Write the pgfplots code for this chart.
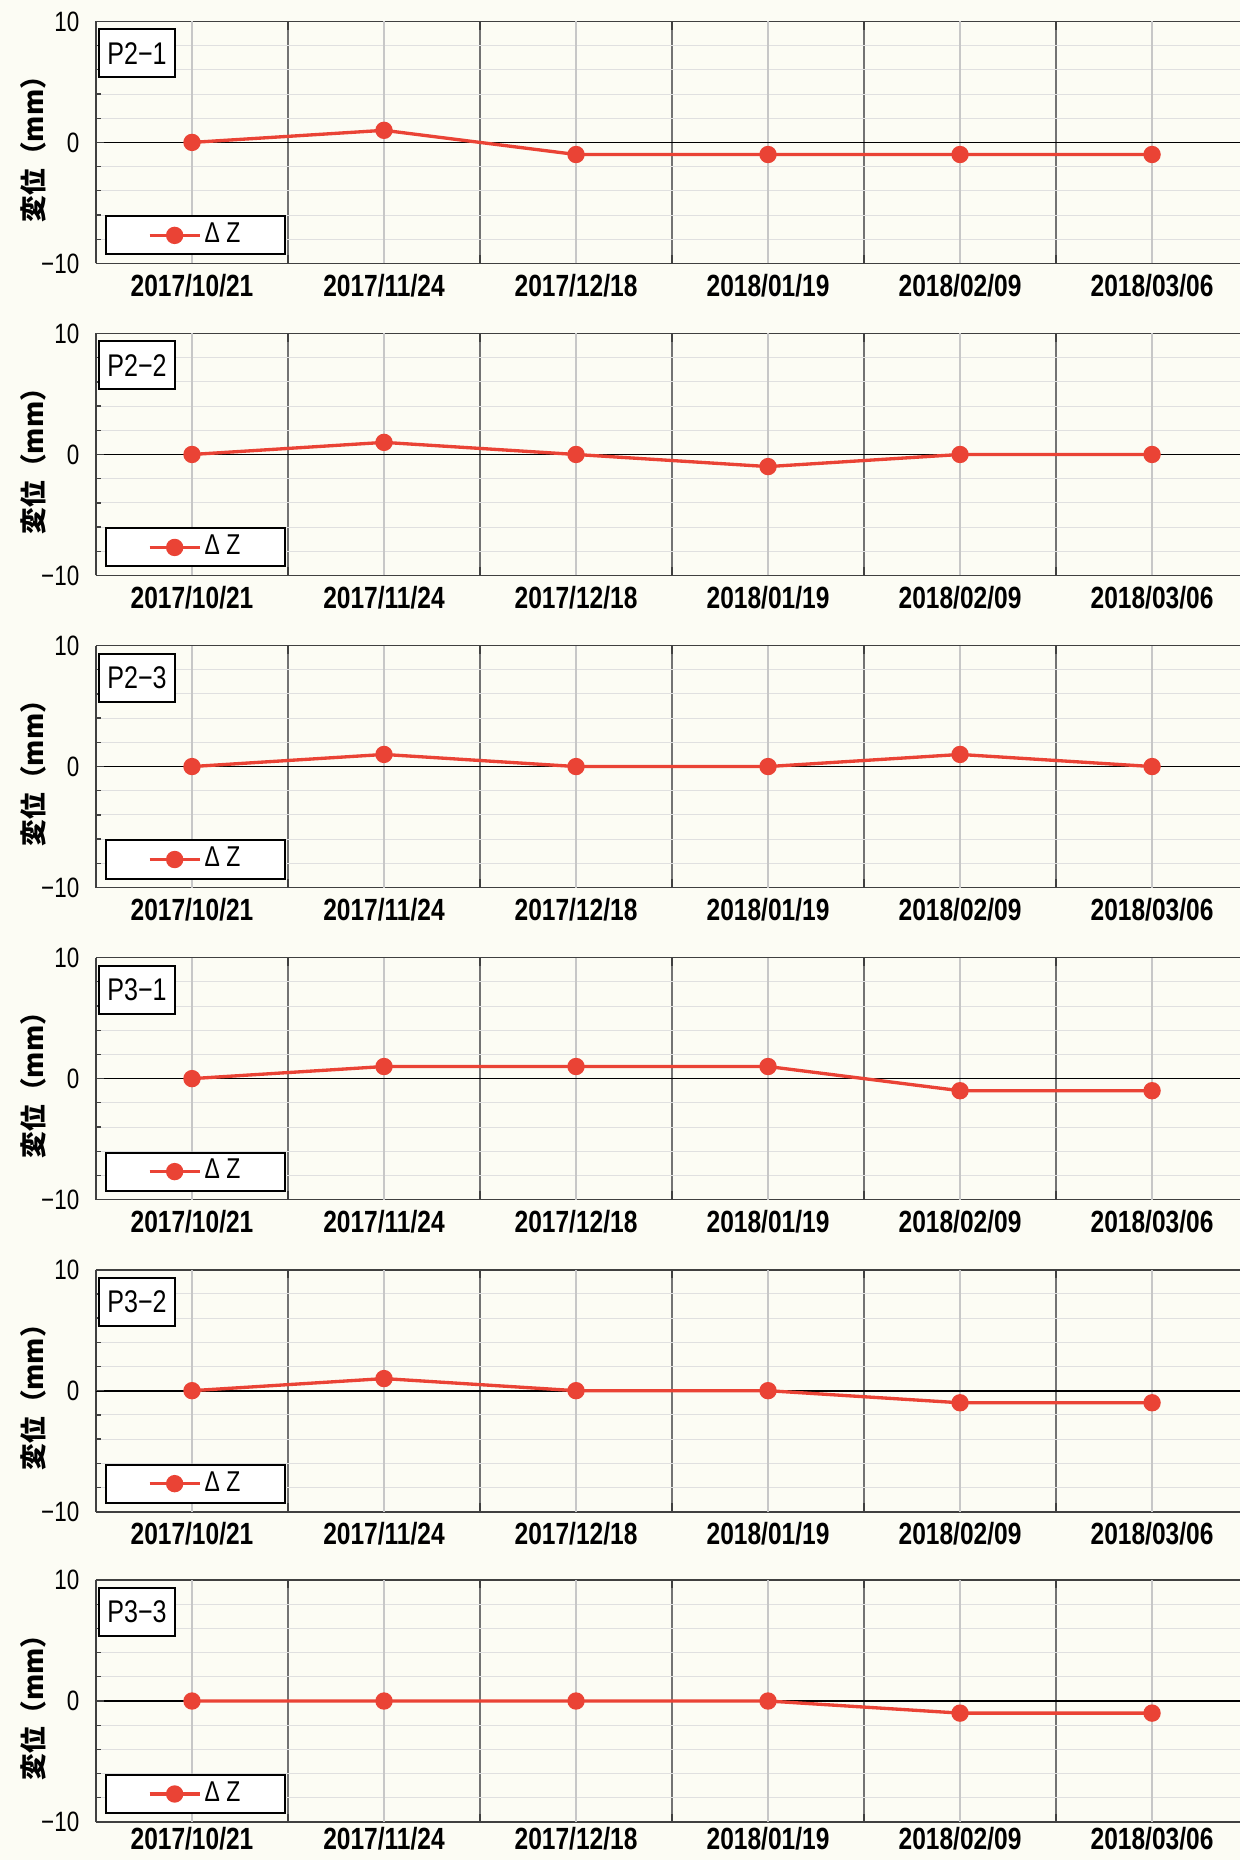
\documentclass[border=0pt]{standalone}
\usepackage{pgfplots}
\usepackage{pgfplotstable}
\pgfplotsset{compat=1.18}
\usepackage{fontspec}
\setmainfont{Liberation Sans}
\newfontfamily\narrow[FakeStretch=0.8]{Liberation Sans}
\newfontfamily\jp{Noto Sans CJK JP}
\definecolor{bg}{RGB}{252,252,244}
\definecolor{series}{RGB}{234,67,53}

\pgfplotstableread{
x p21 p22 p23 p31 p32 p33
0 0 0 0 0 0 0
1 1 1 1 1 1 0
2 -1 0 0 1 0 0
3 -1 -1 0 1 0 0
4 -1 0 1 -1 -1 -1
5 -1 0 0 -1 -1 -1
}\data

\pgfplotsset{
panel/.style={
 scale only axis, width=343.2pt, height=72.6pt,
 xmin=-0.5, xmax=5.458, ymin=-10, ymax=10,
 axis y line*=left, axis x line*=box,
 axis line style={black!75, line width=0.5pt},
 xtick={0.5,1.5,2.5,3.5,4.5}, xticklabels={},
 xmajorgrids, major grid style={black!55, line width=0.4pt},
 extra x ticks={0,1,2,3,4,5},
 extra x tick labels={2017/10/21,2017/11/24,2017/12/18,2018/01/19,2018/02/09,2018/03/06},
 extra x tick style={grid=major, major grid style={black!22, line width=0.4pt}, major tick length=0pt},
 xticklabel style={font=\narrow\bfseries\fontsize{9.2}{10}\selectfont, inner sep=0.8pt, yshift=-2.3pt},
 ytick={-10,10}, yticklabels={−10,10},
 extra y ticks={0}, extra y tick labels={0},
 extra y tick style={grid=major, major grid style={black, line width=0.5pt}},
 minor y tick num=9, yminorgrids, minor grid style={black!12, line width=0.3pt},
 yticklabel style={font=\narrow\fontsize{8.4}{9}\selectfont, xshift=-1.5pt},
 tick style={black!75, line width=0.4pt}, major tick length=2.5pt, minor tick length=1.5pt,
 ylabel={変位（mm）},
 ylabel style={font=\jp\bfseries\fontsize{8}{9}\selectfont, at={(axis description cs:-0.055,0.5)}, anchor=center},
 legend style={at={(0,0)}, anchor=south west, xshift=2.8pt, yshift=2.4pt, draw=black, line width=0.6pt, fill=white, inner xsep=12.5pt, inner ysep=1pt, nodes={inner sep=1pt}, font=\narrow\fontsize{8.6}{9}\selectfont, /tikz/every even column/.append style={column sep=2pt}},
 legend image code/.code={\draw[mark repeat=2, mark phase=2, #1] plot coordinates {(0pt,0pt)(7.5pt,0pt)(15pt,0pt)};},
}}

\newcommand\panel[4][]{%
\begin{axis}[panel, at={(28.8pt,-#2pt)}, anchor=south west, #1]
\addplot[color=series, line width=1pt, mark=*, mark size=2.1pt, mark options={solid, fill=series, draw=series}] table[x=x,y=#4]{\data};
\addlegendentry{Δ Z}
\node[draw=black, line width=0.6pt, fill=white, anchor=north west, minimum width=23pt, minimum height=14.4pt, inner sep=0pt, font=\narrow\fontsize{9.4}{10}\selectfont, xshift=0.5pt, yshift=-2.1pt] at (rel axis cs:0,1) {#3};
\end{axis}}

\begin{document}
\begin{tikzpicture}
\path[use as bounding box, fill=bg] (0,0) rectangle (372pt,-558pt);
\panel{79.02}{P2−1}{p21}
\panel{172.64}{P2−2}{p22}
\panel{266.26}{P2−3}{p23}
\panel{359.88}{P3−1}{p31}
\panel{453.50}{P3−2}{p32}
\panel[xticklabel style={yshift=1.6pt}]{546.6}{P3−3}{p33}
\end{tikzpicture}
\end{document}
